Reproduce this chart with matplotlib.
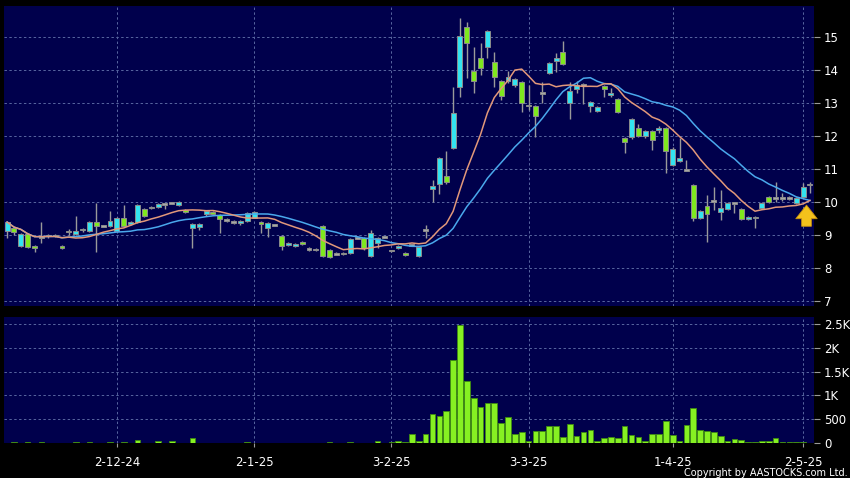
import matplotlib.pyplot as plt
import numpy as np
import pandas as pd

# daily candles (index 0 = first trading day shown)
opens = [9.12, 9.20, 8.67, 9.03, 8.67, 8.94, 8.96, 8.99, 8.67, 9.10,
         9.03, 9.14, 9.12, 9.39, 9.27, 9.27, 9.12, 9.52, 9.33, 9.39,
         9.79, 9.84, 9.85, 9.94, 9.97, 9.91, 9.76, 9.21, 9.24, 9.64,
         9.70, 9.61, 9.45, 9.39, 9.36, 9.42, 9.52, 9.39, 9.21, 9.30,
         8.97, 8.70, 8.67, 8.79, 8.58, 8.55, 9.27, 8.55, 8.42, 8.45,
         8.45, 8.91, 8.91, 8.36, 8.76, 8.94, 8.52, 8.60, 8.45, 8.70,
         8.36, 9.15, 10.39, 10.55, 10.79, 11.64, 13.48, 15.30, 13.97, 14.36,
         14.70, 14.24, 13.67, 13.67, 13.55, 13.64, 12.93, 12.90, 13.30, 13.91,
         14.27, 14.55, 13.00, 13.42, 13.55, 12.90, 12.76, 13.52, 13.24, 13.12,
         11.94, 11.97, 12.24, 12.00, 12.15, 12.18, 12.24, 11.12, 11.24, 10.97,
         10.52, 9.52, 9.88, 10.03, 9.70, 9.79, 9.97, 9.79, 9.48, 9.55,
         9.82, 10.15, 10.12, 10.12, 10.12, 9.97, 10.15, 10.52]
highs = [9.42, 9.24, 9.05, 9.05, 8.70, 9.39, 9.02, 9.04, 8.70, 9.18,
         9.58, 9.20, 9.42, 9.97, 9.30, 9.73, 9.55, 9.91, 9.42, 9.94,
         9.82, 9.87, 9.97, 9.97, 10.00, 10.02, 9.78, 9.35, 9.36, 9.76,
         9.73, 9.64, 9.50, 9.45, 9.45, 9.70, 9.73, 9.42, 9.38, 9.33,
         9.00, 8.79, 8.76, 8.82, 8.65, 8.60, 9.30, 8.58, 8.48, 8.48,
         8.91, 8.94, 8.94, 9.15, 8.94, 8.97, 8.55, 8.70, 8.48, 8.73,
         8.67, 9.30, 10.67, 11.36, 11.55, 13.48, 15.58, 15.45, 14.70, 14.82,
         15.20, 14.55, 13.70, 13.97, 13.76, 13.67, 13.55, 12.93, 13.64, 14.24,
         14.52, 14.88, 13.64, 13.68, 13.60, 13.06, 12.90, 13.55, 13.45, 13.15,
         11.97, 12.55, 12.36, 12.18, 12.18, 12.30, 12.27, 11.67, 11.94, 11.27,
         10.55, 9.76, 10.21, 10.45, 10.36, 10.00, 10.00, 9.82, 9.58, 9.58,
         10.00, 10.18, 10.61, 10.27, 10.18, 10.15, 10.58, 10.60]
lows = [8.91, 9.00, 8.64, 8.62, 8.48, 8.76, 8.92, 8.94, 8.58, 9.00,
        9.00, 9.10, 9.10, 8.48, 9.24, 9.25, 9.10, 9.25, 9.30, 9.36,
        9.55, 9.80, 9.83, 9.79, 9.95, 9.89, 9.68, 8.60, 9.15, 9.58,
        9.60, 9.06, 9.40, 9.33, 9.30, 9.40, 9.50, 9.06, 8.94, 9.27,
        8.55, 8.68, 8.65, 8.70, 8.52, 8.50, 8.33, 8.30, 8.38, 8.38,
        8.42, 8.88, 8.55, 8.33, 8.60, 8.90, 8.48, 8.57, 8.36, 8.67,
        8.33, 8.91, 10.00, 10.24, 10.55, 11.60, 13.18, 13.76, 13.30, 13.85,
        14.36, 13.49, 13.09, 13.60, 13.50, 12.73, 12.79, 11.97, 13.00, 13.88,
        13.94, 14.15, 12.52, 13.30, 12.97, 12.73, 12.74, 13.18, 13.18, 12.70,
        11.48, 11.90, 11.97, 11.94, 11.58, 12.10, 10.88, 11.09, 11.20, 10.94,
        9.42, 9.48, 8.79, 9.76, 9.45, 9.76, 9.67, 9.45, 9.45, 9.21,
        9.79, 9.97, 10.00, 10.03, 10.06, 9.94, 10.12, 10.27]
closes = [9.39, 9.09, 9.03, 8.64, 8.60, 8.94, 8.99, 8.97, 8.60, 9.10,
          9.12, 9.18, 9.39, 9.27, 9.27, 9.42, 9.52, 9.27, 9.39, 9.91,
          9.58, 9.84, 9.94, 9.94, 9.97, 10.00, 9.70, 9.33, 9.33, 9.73,
          9.64, 9.48, 9.45, 9.39, 9.42, 9.67, 9.70, 9.33, 9.36, 9.30,
          8.67, 8.76, 8.73, 8.73, 8.58, 8.55, 8.36, 8.33, 8.42, 8.42,
          8.88, 8.91, 8.60, 9.06, 8.91, 8.94, 8.52, 8.67, 8.39, 8.70,
          8.64, 9.15, 10.48, 11.33, 10.60, 12.70, 15.03, 14.82, 13.67, 14.06,
          15.18, 13.79, 13.21, 13.79, 13.73, 13.00, 12.93, 12.60, 13.30, 14.21,
          14.36, 14.18, 13.36, 13.55, 13.55, 13.03, 12.88, 13.42, 13.30, 12.73,
          11.82, 12.52, 12.00, 12.15, 11.88, 12.24, 11.55, 11.61, 11.33, 10.97,
          9.52, 9.73, 9.64, 10.03, 9.82, 9.97, 9.97, 9.48, 9.55, 9.50,
          9.97, 10.00, 10.12, 10.12, 10.12, 10.12, 10.45, 10.52]
volume = [8, 21, 8, 21, 8, 21, 8, 8, 8, 8,
          21, 8, 21, 8, 8, 21, 8, 21, 8, 63,
          8, 8, 42, 8, 42, 8, 8, 105, 8, 8,
          8, 8, 5, 5, 5, 21, 5, 5, 5, 5,
          10, 5, 5, 5, 5, 5, 8, 28, 5, 5,
          28, 5, 5, 8, 42, 8, 14, 42, 28, 195,
          42, 195, 607, 558, 677, 1745, 2478, 1312, 956, 747,
          838, 838, 419, 537, 188, 237, 49, 251, 251, 363,
          349, 119, 398, 147, 223, 265, 35, 105, 119, 105,
          349, 175, 126, 49, 195, 195, 454, 161, 49, 384,
          733, 279, 258, 223, 140, 35, 77, 56, 14, 21,
          49, 49, 98, 14, 28, 28, 28, 5]

tick_pos = [16, 36, 56, 76, 97, 116]
tick_labels = ['2-12-24', '2-1-25', '3-2-25', '3-3-25', '1-4-25', '2-5-25']
vol_ticks = [0, 500, 1000, 1500, 2000, 2500]
vol_labels = ['0', '500', '1K', '1.5K', '2K', '2.5K']

BG = '#00004c'
UP = '#33e3f0'
DOWN = '#7fe81e'
FLAT = '#a8a8a8'
GRID = '#5866a0'

o = np.array(opens); h = np.array(highs); l = np.array(lows); c = np.array(closes)
x = np.arange(len(c))
ma10 = pd.Series(c).rolling(10, min_periods=1).mean()
ma20 = pd.Series(c).rolling(20, min_periods=1).mean()

fig = plt.figure(figsize=(8.5, 4.78), dpi=100, facecolor='black')
ax = fig.add_axes([0.0047, 0.360, 0.953, 0.6274])
ax2 = fig.add_axes([0.0047, 0.0732, 0.953, 0.2636])

for a in (ax, ax2):
    a.set_facecolor(BG)
    for s in a.spines.values():
        s.set_visible(False)
    a.set_xlim(-0.45, 117.6)
    a.set_xticks(tick_pos)
    a.grid(True, color=GRID, linestyle=(0, (2.5, 2.5)), linewidth=0.7)
    a.set_axisbelow(True)
    a.yaxis.tick_right()
    a.tick_params(axis='y', colors='#9a9a9a', labelcolor='white', length=4, width=0.8,
                  pad=3, labelsize=8.5)

# price panel
ax.set_ylim(6.85, 15.94)
ax.set_yticks(range(7, 16))
ax.tick_params(axis='x', length=0, labelbottom=False)

ax.vlines(x, l, h, color='#9a9a9a', linewidth=1, zorder=2)
cols = [UP if cc > oo else DOWN if cc < oo else FLAT for oo, cc in zip(o, c)]
body = np.maximum(np.abs(c - o), 0.04)
bottom = np.where(np.abs(c - o) < 0.04, (o + c) / 2 - 0.02, np.minimum(o, c))
ax.bar(x, body, bottom=bottom, width=0.72, color=cols, edgecolor='#8c8c8c',
       linewidth=0.7, zorder=3)

ax.plot(x, ma20, color='#4aa8ec', linewidth=1.1, zorder=4)
ax.plot(x, ma10, color='#e2987a', linewidth=1.1, zorder=4)

ax.annotate('', xy=(116.5, 9.99), xytext=(116.5, 9.18),
            arrowprops=dict(arrowstyle='simple,head_length=0.7,head_width=1.1,tail_width=0.5',
                            fc='#f4c21c', ec='#c89010', lw=0.6, mutation_scale=14),
            zorder=6)

# volume panel
ax2.bar(x, volume, width=0.82, color='#86f022', edgecolor='#3f8c12', linewidth=0.6, zorder=3)
ax2.set_ylim(0, 2650)
ax2.set_yticks(vol_ticks)
ax2.set_yticklabels(vol_labels)
ax2.set_xticklabels(tick_labels)
ax2.tick_params(axis='x', colors='#9a9a9a', labelcolor='white', length=3, width=0.8,
                pad=6, labelsize=8.5, direction='out')

fig.text(0.997, 0.0, 'Copyright by AASTOCKS.com Ltd.', color='white', fontsize=7,
         ha='right', va='bottom')

fig.savefig('out.png', dpi=100, facecolor='black')
